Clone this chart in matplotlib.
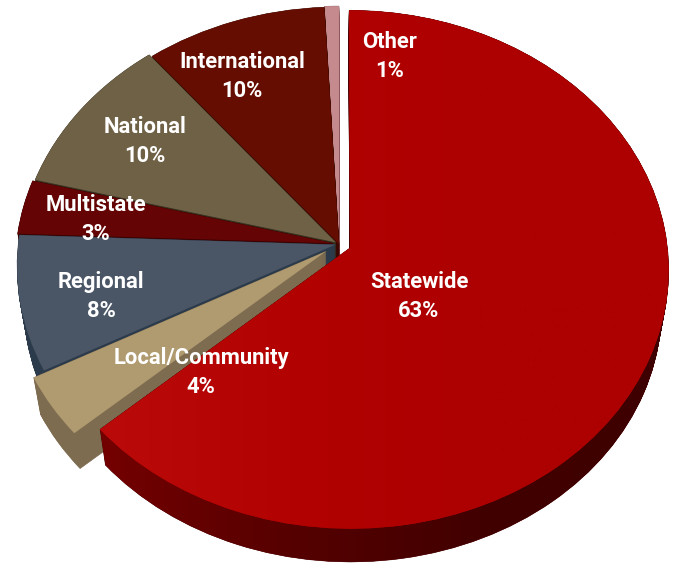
import numpy as np
import matplotlib
matplotlib.use("Agg")
import matplotlib.pyplot as plt
from matplotlib.patches import PathPatch
from matplotlib.path import Path
from matplotlib.transforms import Transform
from matplotlib.colors import LinearSegmentedColormap

categories = ["Statewide", "Local/Community", "Regional", "Multistate", "National", "International", "Other"]
values = [63.4, 3.8, 8.4, 3.4, 10.2, 10.0, 0.8]
percent_labels = ["63%", "4%", "8%", "3%", "10%", "10%", "1%"]
face_colors = ["#b00000", "#b09a70", "#4a5666", "#640404", "#6f6146", "#640d00", "#c58a8e"]
side_colors = ["#4a0000", "#7e6c50", "#2c3b4b", "#3a0000", "#37321f", "#3a0800", "#8a5a5e"]
explode = [0.038, 0.05, 0.012, 0.018, 0.012, 0.0, -0.004]
paint_order = [6, 5, 4, 3, 2, 1, 0]

CX, CY, RX, RY, K, DEPTH = 339.0, 244.0, 317.0, 256.7, -0.083, 39.5
N_LAYERS = 40


class Tilt(Transform):
    """Maps pie coordinates to image pixels with a perspective tilt; t is the depth (0 top, 1 bottom)."""
    input_dims = output_dims = 2
    is_affine = False
    has_inverse = False

    def __init__(self, t=0.0):
        super().__init__()
        self.t = t

    def transform_non_affine(self, v):
        v = np.asarray(v, float)
        s = -v[:, 1]
        d = 1 + K * s
        shrink = 1 - 0.022 * self.t
        return np.column_stack([CX + shrink * RX * v[:, 0] / d,
                                CY + DEPTH * self.t + shrink * RY * s / d])


plt.rcParams["font.family"] = ["Roboto", "Liberation Sans", "DejaVu Sans"]
fig = plt.figure(figsize=(6.77, 5.64), dpi=100)
ax = fig.add_axes([0, 0, 1, 1])

wedges, _ = ax.pie(values, explode=np.abs(explode), startangle=90, counterclock=False, radius=1,
                   colors=face_colors, wedgeprops={"linewidth": 0})
ax.set_aspect("auto")

ts = np.linspace(1, 0, N_LAYERS)
for z, i in enumerate(paint_order):
    w = wedges[i]
    base = w.get_patch_transform().transform_path(w.get_path())
    for t in ts:
        ax.add_patch(PathPatch(
            base, transform=Tilt(t) + ax.transData, facecolor=side_colors[i],
            edgecolor=side_colors[i], linewidth=0.4, zorder=10 + 2 * z))
    top = Tilt(0).transform_path(base)
    if i == 0:
        stack = Path.make_compound_path(*[Tilt(t).transform_path(base) for t in ts])
        grad = LinearSegmentedColormap.from_list("s", ["#740000", "#560000", "#420000", "#3e0000"])
        im = ax.imshow(np.linspace(0, 1, 256)[None, :], cmap=grad, extent=(100, 670, 564, 0),
                       aspect="auto", zorder=10 + 2 * z + 0.5)
        im.set_clip_path(stack, ax.transData)
    w.set_transform(Tilt(0) + ax.transData)
    w.set_zorder(11 + 2 * z)
    if i == 0:
        grad = LinearSegmentedColormap.from_list("t", ["#bb0a0a", "#b20202", "#ad0000", "#ad0000"])
        im = ax.imshow(np.linspace(0, 1, 256)[None, :], cmap=grad, extent=(100, 670, 564, 0),
                       aspect="auto", zorder=11.5 + 2 * z)
        im.set_clip_path(top, ax.transData)

ax.set_xlim(0, 677)
ax.set_ylim(564, 0)
ax.axis("off")

label_xy = [(419, 296.5), (201, 372.5), (101, 296.5), (96, 219.5), (145, 141.5), (242, 76.5), (390, 56.5)]
for name, pct, (x, y) in zip(categories, percent_labels, label_xy):
    ax.text(x, y, f"{name}\n{pct}", color="white", ha="center", va="center", fontsize=15.8,
            fontweight="bold", linespacing=1.41, zorder=100)

fig.savefig("out.png", dpi=100)
